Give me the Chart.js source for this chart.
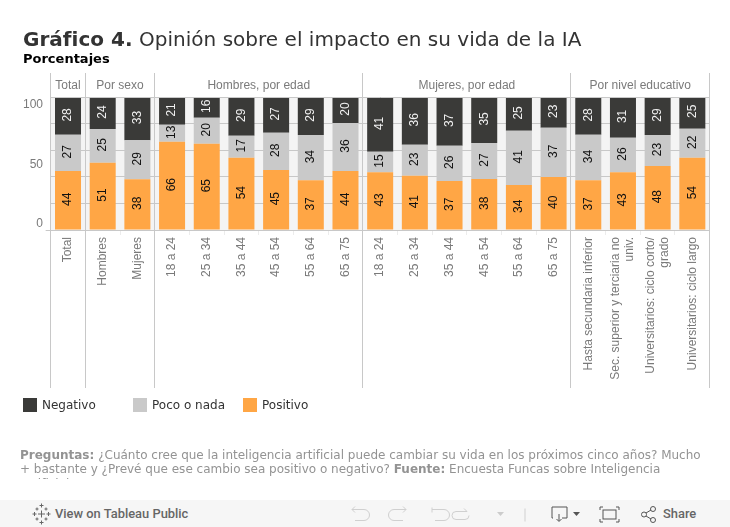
<!DOCTYPE html>
<html lang="es"><head><meta charset="utf-8">
<script src="https://cdn.jsdelivr.net/npm/chart.js@4"></script>
<style>
html,body{margin:0;padding:0;background:#fff;overflow:hidden}
#wrap{position:relative;width:730px;height:527px;overflow:hidden}
canvas{position:absolute;left:0;top:0}
.t{position:absolute;white-space:nowrap;font-family:"DejaVu Sans",sans-serif}
#title{left:23px;top:26px;font-size:20px;line-height:26px;color:#333;letter-spacing:.02px}
#sub{left:23px;top:51px;font-size:13px;line-height:16px;font-weight:bold;color:#000}
.sw{position:absolute;top:398px;width:14px;height:14px}
.lg{position:absolute;top:397px;font:12px/16px "DejaVu Sans",sans-serif;color:#333}
#note{position:absolute;left:20px;top:448px;width:690px;height:31px;overflow:hidden;font:12px/14.3px "DejaVu Sans",sans-serif;color:#939393}
#bar{position:absolute;left:0;top:500px;width:730px;height:27px;background:#f6f6f6}
#bar svg{position:absolute;left:0;top:0}
.tb{position:absolute;top:6px;font:500 12.9px/16px Roboto,"DejaVu Sans",sans-serif;color:#666}
</style></head><body>
<div id="wrap">
<canvas id="c" width="730" height="527"></canvas>
<div class="t" id="title"><b>Gráfico 4.</b> Opinión sobre el impacto en su vida de la IA</div>
<div class="t" id="sub">Porcentajes</div>
<div id="legend"></div>
<div id="note"><b>Preguntas:</b> ¿Cuánto cree que la inteligencia artificial puede cambiar su vida en los próximos cinco años? Mucho + bastante y ¿Prevé que ese cambio sea positivo o negativo? <b>Fuente:</b> Encuesta Funcas sobre Inteligencia Artificial 2024.</div>
<div id="bar">
<svg width="730" height="27" fill="none" stroke="#aaa" stroke-width="1">
<g stroke="#666" transform="translate(0 2.500)"><path d="M41.500 1v4M39.500 3h4M41.500 18v4M39.500 20h4M34.500 9.500v4M32.500 11.500h4M48.500 9.500v4M46.500 11.500h4M37 5v3M35.500 6.500h3M46 5v3M44.500 6.500h3M37 15v3M35.500 16.500h3M46 15v3M44.500 16.500h3M41.500 8v7M38 11.500h7"/></g>
<g stroke="#d0d0d0" transform="translate(0 1.500)"><path d="M352 8h12a5.500 5.500 0 0 1 0 11h-9M352 8l3-3M352 8l3 3"/><path d="M406 8h-12a5.500 5.500 0 0 0 0 11h9M406 8l-3-3M406 8l-3 3"/><path d="M432 6v5M432 8h12a5.500 5.500 0 0 1 0 11h-9"/><path d="M467 10h-11a4 4 0 0 0 0 8h9a4 4 0 0 0 4-4M467 10l-3-3"/><path d="M525 7v13"/></g>
<path d="M497 12h7l-3.500 4z" fill="#ccc" stroke="none"/>
<g stroke="#555" transform="translate(0 1)"><path d="M553 17h-1v-11h15v11h-5M559 13v7M556.500 18l2.500 2.500 2.500-2.500"/><path d="M603 6h-3v3M616 6h3v3M603 21h-3v-3M616 21h3v-3"/><rect x="603" y="9" width="13" height="9"/><circle cx="644" cy="13.500" r="2.500"/><circle cx="653" cy="8" r="2.500"/><circle cx="653" cy="19" r="2.500"/><path d="M646 12l5-3M646 15l5 3"/></g>
<path d="M573 12h7l-3.500 4z" fill="#555" stroke="none"/>
</svg>
<div class="tb" style="left:55px">View on Tableau Public</div>
<div class="tb" style="left:663px">Share</div>
</div>
</div>
<script>
const categories = ["Total","Hombres","Mujeres","18 a 24","25 a 34","35 a 44","45 a 54","55 a 64","65 a 75","18 a 24","25 a 34","35 a 44","45 a 54","55 a 64","65 a 75",
  "Hasta secundaria inferior",["Sec. superior y terciaria no","univ."],["Universitarios: ciclo corto/","grado"],"Universitarios: ciclo largo"];
const positivo = [44.4,50.6,38.2,66.3,64.8,54.3,45.2,37.4,44.4,43.4,40.7,36.9,38.3,33.9,39.9,37.4,43.4,48.2,54.3];
const pocoONada = [27.2,25.4,29.3,12.8,19.6,16.6,27.9,34.0,36.0,15.4,23.4,26.4,27.2,40.7,37.0,34.2,25.9,23.2,21.9];
const negativo = [28.4,24.0,32.5,20.9,15.6,29.1,26.9,28.6,19.6,41.2,35.9,36.7,34.5,25.4,23.1,28.4,30.7,28.6,24.6];
const groupNames = ["Total","Por sexo","Hombres, por edad","Mujeres, por edad","Por nivel educativo"];
const groupSizes = [1,2,6,6,4];
const yLabels = [0,50,100];
const legendOrder = ["Negativo","Poco o nada","Positivo"];
const colors = {"Negativo":"#3a3a38","Poco o nada":"#c9c9c9","Positivo":"#ffa645"};

const legendEl = document.getElementById('legend');
legendOrder.forEach((n,i)=>{
  const x = 23 + i*110;
  legendEl.insertAdjacentHTML('beforeend',
    `<div class="sw" style="left:${x}px;background:${colors[n]}"></div><div class="lg" style="left:${x+19}px">${n}</div>`);
});

const LINE = '#c8c8c8', TXT = '#7a7a7a', SANS = '"Liberation Sans",Arial,sans-serif';

const decorations = {
  id:'decorations',
  beforeDraw(chart){
    const {ctx,chartArea:a} = chart;
    ctx.save(); ctx.fillStyle='#f4f4f4';
    ctx.fillRect(a.left,a.top,a.right-a.left,a.bottom-a.top); ctx.restore();
  },
  afterDraw(chart){
    const {ctx,chartArea:a,scales:{x,y}} = chart;
    ctx.save();
    ctx.strokeStyle=LINE; ctx.lineWidth=1;
    const top=Math.round(y.getPixelForValue(100))+0.5;
    ctx.beginPath();ctx.moveTo(a.left,top);ctx.lineTo(a.right,top);ctx.stroke();
    ctx.font='12px '+SANS; ctx.fillStyle=TXT; ctx.textAlign='center'; ctx.textBaseline='middle';
    let start=0;
    const sep=p=>{const px=Math.floor(p)+0.5;ctx.beginPath();ctx.moveTo(px,73);ctx.lineTo(px,388);ctx.stroke();};
    sep(x.getPixelForValue(-0.5));
    groupNames.forEach((g,i)=>{
      const l=x.getPixelForValue(start-0.5), r=x.getPixelForValue(start+groupSizes[i]-0.5);
      sep(r);
      ctx.fillText(g,(l+r)/2,86);
      start+=groupSizes[i];
    });
    ctx.textAlign='right';
    yLabels.forEach((v,i)=>{
      const off = i===0?-6:(i===yLabels.length-1?8:1);
      ctx.fillText(String(v),43,y.getPixelForValue(v)+off);
    });
    categories.forEach((c,i)=>{
      const lines=[].concat(c), lh=14;
      ctx.save();
      ctx.translate(x.getPixelForValue(i),237);
      ctx.rotate(-Math.PI/2);
      ctx.textAlign='right'; ctx.textBaseline='middle';
      lines.forEach((t,k)=>ctx.fillText(t,0,(k-(lines.length-1)/2)*lh));
      ctx.restore();
    });
    chart.data.datasets.forEach((ds,di)=>{
      const meta=chart.getDatasetMeta(di);
      meta.data.forEach((bar,i)=>{
        ctx.save();
        ctx.translate(bar.x,(bar.y+bar.base)/2-1);
        ctx.rotate(-Math.PI/2);
        ctx.textAlign='center'; ctx.textBaseline='middle';
        ctx.font='12px '+SANS;
        ctx.fillStyle= ds.label==='Negativo' ? '#f0f0f0' : '#111';
        ctx.fillText(String(Math.round(ds.data[i])),0,0);
        ctx.restore();
      });
    });
    ctx.restore();
  }
};

new Chart(document.getElementById('c'),{
  type:'bar',
  data:{labels:categories,datasets:[
    {label:'Positivo',data:positivo,backgroundColor:colors['Positivo']},
    {label:'Poco o nada',data:pocoONada,backgroundColor:colors['Poco o nada']},
    {label:'Negativo',data:negativo,backgroundColor:colors['Negativo']}
  ]},
  options:{
    responsive:false,animation:false,
    devicePixelRatio:1,
    layout:{padding:{left:0,top:97,right:20.33,bottom:0}},
    datasets:{bar:{categoryPercentage:1,barPercentage:0.75,stack:'s'}},
    plugins:{legend:{display:false},tooltip:{enabled:false},title:{display:false}},
    scales:{
      x:{stacked:true,offset:true,
        afterFit(s){s.height=297;},
        border:{display:false},
        grid:{drawOnChartArea:false,offset:true,tickLength:5,color:'#ececec'},
        ticks:{autoSkip:false,minRotation:90,maxRotation:90,padding:1,color:'rgba(0,0,0,0)',callback:()=>''}
      },
      y:{stacked:true,min:0,max:100,
        afterFit(s){s.width=50.67;},
        border:{display:false},
        grid:{color:LINE,tickLength:5,tickColor:c=>c.tick&&c.tick.value===0?LINE:'rgba(0,0,0,0)'},
        ticks:{stepSize:20,callback:()=>'' ,padding:0}
      }
    }
  },
  plugins:[decorations]
});
</script>
</body></html>
